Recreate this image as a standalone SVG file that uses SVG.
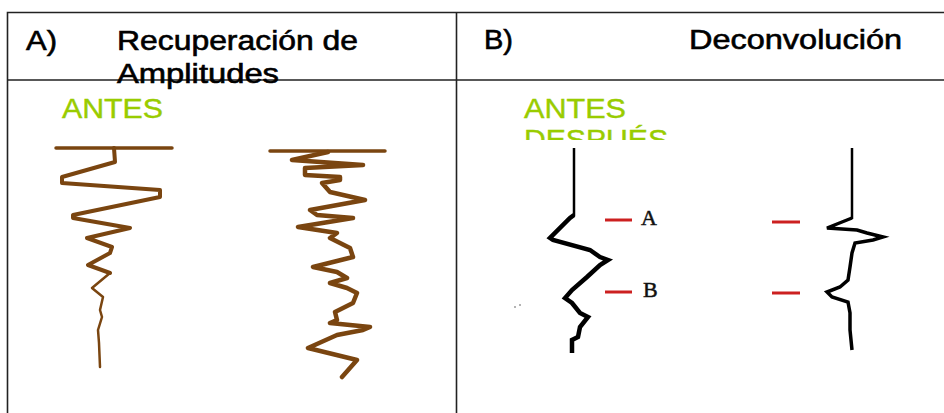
<svg xmlns="http://www.w3.org/2000/svg" width="944" height="413" viewBox="0 0 944 413">
<style>
.hdr{font-family:"Liberation Sans",Arial,sans-serif;font-size:27px;fill:#000;stroke:#000;stroke-width:0.6}
.grn{font-family:"Liberation Sans",Arial,sans-serif;font-size:27px;fill:#99cc00;stroke:#99cc00;stroke-width:0.4}
.grid{stroke:#222;stroke-width:1.6;fill:none}
.brown{fill:none;stroke:#7a4510;stroke-linejoin:round;stroke-linecap:round}
.blk{fill:none;stroke:#000;stroke-linejoin:miter;stroke-linecap:butt}
.red{stroke:#cc2020;stroke-width:3}
.ser{font-family:"Liberation Serif","Times New Roman",serif;font-size:22px;fill:#111;stroke:#111;stroke-width:0.5}
</style>
<defs>
<clipPath id="clipD"><rect x="456" y="80" width="488" height="60"/></clipPath>
</defs>
<rect width="944" height="413" fill="#fff"/>
<g id="table">
<path class="grid" d="M7.5 413 V12.5 H944 M7.5 80 H944 M456.5 12.5 V413"/>
</g>
<g id="headerA">
<text class="hdr" x="26" y="50" textLength="31" lengthAdjust="spacingAndGlyphs">A)</text>
<text class="hdr" x="117" y="50" textLength="241" lengthAdjust="spacingAndGlyphs">Recuperación de</text>
<text class="hdr" x="117" y="83" textLength="162" lengthAdjust="spacingAndGlyphs">Amplitudes</text>
</g>
<g id="headerB">
<text class="hdr" x="484" y="49" textLength="29" lengthAdjust="spacingAndGlyphs">B)</text>
<text class="hdr" x="689" y="49" textLength="213" lengthAdjust="spacingAndGlyphs">Deconvolución</text>
</g>
<g id="labelA">
<text class="grn" x="62" y="118" textLength="101" lengthAdjust="spacingAndGlyphs">ANTES</text>
</g>
<g id="labelB">
<text class="grn" x="524" y="118" textLength="102" lengthAdjust="spacingAndGlyphs">ANTES</text>
<text class="grn" x="524" y="149" textLength="144" lengthAdjust="spacingAndGlyphs" clip-path="url(#clipD)">DESPUÉS</text>
</g>
<g id="traceA1">
<line class="brown" x1="56" y1="148" x2="172" y2="148" stroke-width="3.5"/>
<polyline class="brown" stroke-width="4" points="114,148 115,162 62,177 62,183 160,190 160,197 73,215 73,218 130,228 87,238 112,247 110,253 88,265 110,273"/>
<polyline class="brown" stroke-width="2.5" points="110,273 92,288 103,297 100,310 102,317 98,330 99,343 100,367"/>
</g>
<g id="traceA2">
<line class="brown" x1="270" y1="151" x2="385" y2="151" stroke-width="3.5"/>
<polyline class="brown" stroke-width="4.5" points="328,152 292,160 363,165 305,168 305,175 340,177 340,180 322,183 330,192 365,200 310,210 317,215 353,218 298,227 337,233 330,238 340,243 350,248 353,257 313,267 337,272 347,278 330,283 347,288 357,293 353,303 335,312 337,320 330,323 370,327 363,330 337,335 308,348 357,360 342,377"/>
</g>
<g id="traceB1">
<line class="blk" x1="574" y1="148" x2="574" y2="216" stroke-width="2.5"/>
<polyline class="blk" stroke-width="4.5" points="574,215 570,218 550,238 553,240 590,250 600,257 608,260 600,265 587,277 572,290 565,298 572,303 580,313 588,317 580,327 578,337 572,340 572,353"/>
<circle cx="515" cy="307" r="0.8" fill="#555"/>
<circle cx="520" cy="305" r="0.8" fill="#555"/>
</g>
<g id="markersB1">
<line class="red" x1="605" y1="220" x2="632" y2="220"/>
<text class="ser" x="641" y="225">A</text>
<line class="red" x1="605" y1="292" x2="632" y2="292"/>
<text class="ser" x="643" y="297">B</text>
</g>
<g id="traceB2">
<line class="blk" x1="852" y1="148" x2="852" y2="219" stroke-width="2.5"/>
<polyline class="blk" stroke-width="3.5" points="852,218 847,220 827,228 857,230 867,233 883,237 873,240 855,243 852,253 850,267 848,280 840,287 827,292 832,297 848,302 850,313 850,330 852,350"/>
</g>
<g id="markersB2">
<line class="red" x1="772" y1="222" x2="800" y2="222"/>
<line class="red" x1="772" y1="293" x2="800" y2="293"/>
</g>
</svg>
